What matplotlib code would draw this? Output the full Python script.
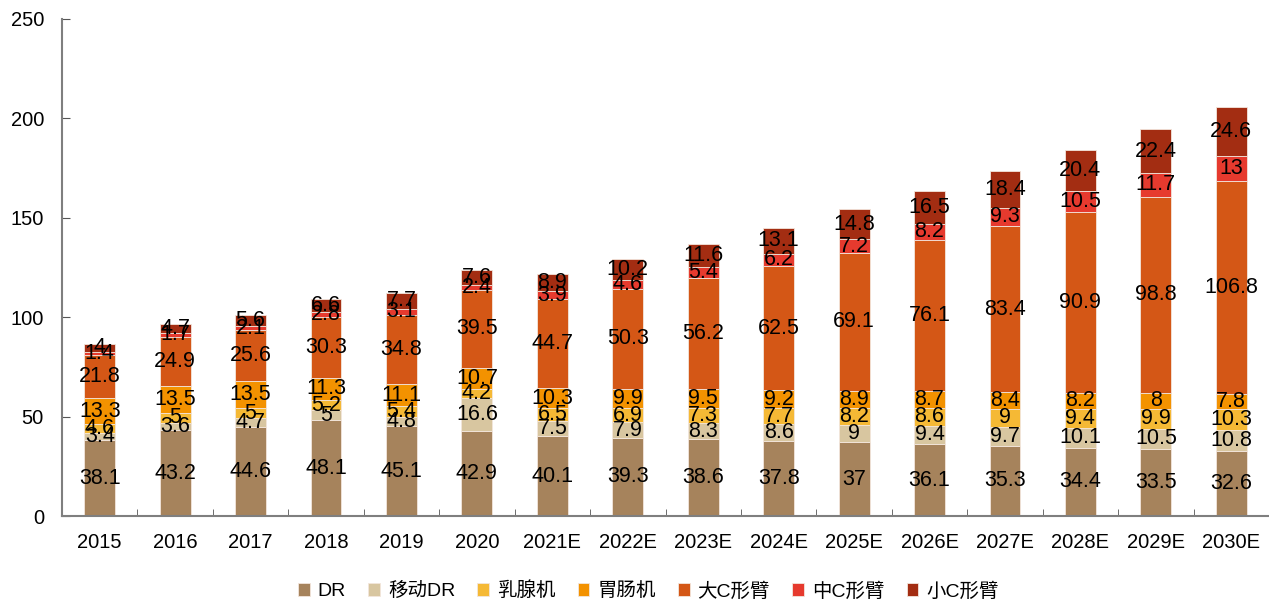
import matplotlib.pyplot as plt
import numpy as np

plt.rcParams['font.family'] = ['Liberation Sans', 'Noto Sans CJK SC', 'DejaVu Sans']

years = ['2015', '2016', '2017', '2018', '2019', '2020', '2021E', '2022E',
         '2023E', '2024E', '2025E', '2026E', '2027E', '2028E', '2029E', '2030E']

dr = [38.1, 43.2, 44.6, 48.1, 45.1, 42.9, 40.1, 39.3, 38.6, 37.8, 37, 36.1, 35.3, 34.4, 33.5, 32.6]
mobile_dr = [3.4, 3.6, 4.7, 5, 4.8, 16.6, 7.5, 7.9, 8.3, 8.6, 9, 9.4, 9.7, 10.1, 10.5, 10.8]
mammo = [4.6, 5, 5, 5.2, 5.4, 4.2, 6.5, 6.9, 7.3, 7.7, 8.2, 8.6, 9, 9.4, 9.9, 10.3]
gi = [13.3, 13.5, 13.5, 11.3, 11.1, 10.7, 10.3, 9.9, 9.5, 9.2, 8.9, 8.7, 8.4, 8.2, 8, 7.8]
big_c = [21.8, 24.9, 25.6, 30.3, 34.8, 39.5, 44.7, 50.3, 56.2, 62.5, 69.1, 76.1, 83.4, 90.9, 98.8, 106.8]
mid_c = [1.4, 1.7, 2.1, 2.8, 3.1, 2.4, 3.9, 4.6, 5.4, 6.2, 7.2, 8.2, 9.3, 10.5, 11.7, 13]
small_c = [4, 4.7, 5.6, 6.6, 7.7, 7.6, 8.9, 10.2, 11.6, 13.1, 14.8, 16.5, 18.4, 20.4, 22.4, 24.6]

series = [dr, mobile_dr, mammo, gi, big_c, mid_c, small_c]
names = ['DR', '移动DR', '乳腺机', '胃肠机', '大C形臂', '中C形臂', '小C形臂']
colors = ['#A6835C', '#D8C6A0', '#F5B935', '#F39200', '#D45716', '#E63A2E', '#A32D12']

fig = plt.figure(figsize=(12.69, 6.01), dpi=100)
ax = fig.add_axes([62 / 1269, 85 / 601, 1 - 62 / 1269, 497 / 601])

x = np.arange(len(years))
bottom = np.zeros(len(years))
for vals, name, c in zip(series, names, colors):
    vals = np.array(vals)
    ax.bar(x, vals, 0.41, bottom=bottom, color=c, label=name,
           edgecolor='#f3e6dc', linewidth=0.6)
    for xi, b, v in zip(x, bottom, vals):
        ax.text(xi, b + v / 2, f'{v:g}', ha='center', va='center', fontsize=15.5, color='black')
    bottom += vals

ax.set_xlim(-0.5, 15.5)
ax.set_ylim(0, 250)
ax.set_yticks(range(0, 251, 50))
ax.set_xticks(x)
ax.set_xticklabels(years)
ax.set_xticks(np.arange(0.5, 15, 1), minor=True)
ax.tick_params(axis='x', which='major', length=0, labelsize=14.5, pad=12)
ax.tick_params(axis='x', which='minor', direction='in', length=5, color='#555555')
ax.tick_params(axis='y', direction='in', length=6, labelsize=14.5, color='#555555', pad=13)
ax.spines['top'].set_visible(False)
ax.spines['right'].set_visible(False)
ax.spines['left'].set_color('#7f7f7f')
ax.spines['bottom'].set_color('#7f7f7f')
ax.spines['left'].set_linewidth(1.5)
ax.spines['bottom'].set_linewidth(1.5)

ax.legend(loc='lower center', bbox_to_anchor=(0.5 - 17 / 1207, -0.205), ncol=7,
          frameon=False, fontsize=14, handlelength=0.6, handleheight=0.6,
          handletextpad=0.4, columnspacing=1.15)

plt.savefig('out.png', dpi=100)
